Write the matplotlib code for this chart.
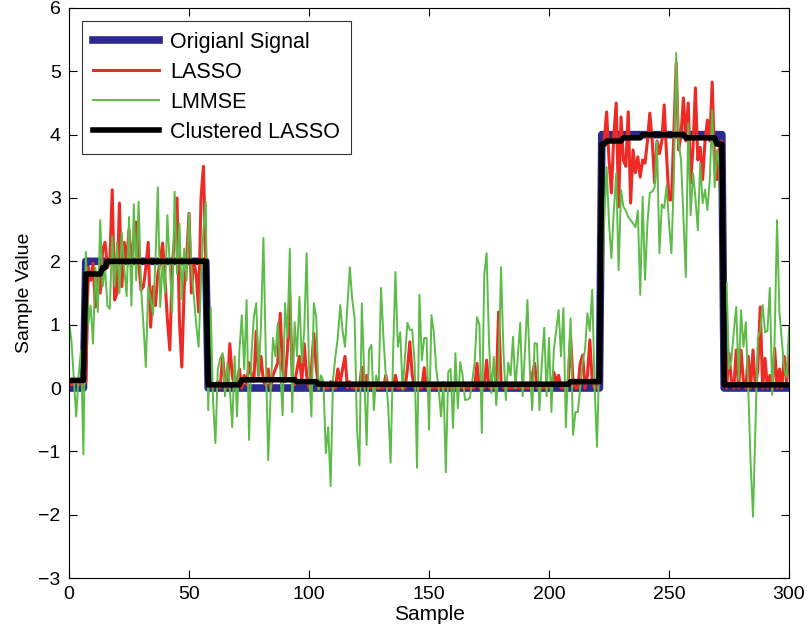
import matplotlib
matplotlib.use("Agg")
import matplotlib.pyplot as plt
import numpy as np

plt.rcParams['font.family'] = ['Liberation Sans', 'DejaVu Sans']

# sample index 0..300
samples = np.arange(301)

# original piecewise-constant signal: (level, number of samples)
orig_levels = [0, 2, 0, 4, 0]
orig_lengths = [7, 51, 164, 51, 28]

# clustered LASSO estimate: (level, number of samples)
clus_levels = [0.12, 1.8, 1.9, 2.0, 0.05, 0.13, 0.1, 0.06, 0.1, 3.85, 3.9, 3.95, 4.0, 3.95, 3.85, 0.05]
clus_lengths = [7, 7, 2, 42, 14, 23, 9, 105, 13, 2, 7, 8, 18, 13, 3, 28]

lasso = [
    0.1, 0.05, 0.08, 0.1, 0.05, 0.1, 0.05, 0.1, 1.9, 1.7,
    1.97, 1.28, 1.8, 1.5, 2.18, 2.3, 1.9, 2.0, 3.13, 1.39,
    1.5, 2.92, 1.6, 2.3, 2.0, 2.5, 1.9, 2.4, 2.62, 2.0,
    1.55, 1.6, 1.9, 2.3, 0.96, 1.6, 1.3, 1.8, 2.0, 2.29,
    1.7, 1.07, 0.6, 1.9, 2.4, 3.0, 1.07, 0.33, 1.6, 2.0,
    2.76, 1.5, 2.0, 1.8, 1.2, 3.0, 3.5, 2.0, 0.1, 0.05,
    0.0, 0.05, 0.1, 0.0, 0.5, 0.1, 0.0, 0.7, 0.2, 0.0,
    0.1, 0.3, 0.0, 0.2, 0.05, 0.4, 0.2, 0.1, 0.9, 0.2,
    0.5, 0.1, 0.05, 0.3, 0.0, 0.2, 0.3, 0.4, 1.18, 0.3,
    0.1, 0.6, 1.47, 0.2, 0.05, 0.3, 0.5, 0.1, 0.7, 0.2,
    0.0, 0.3, 0.86, 0.33, 0.0, 0.1, 0.05, 0.0, 0.0, 0.1,
    0.0, 0.0, 0.3, 0.1, 0.3, 0.5, 0.0, 0.1, 0.0, 0.0,
    0.0, 0.0, 0.33, 0.0, 0.2, 0.0, 0.0, 0.0, 0.0, 0.0,
    0.0, 0.0, 0.2, 0.0, 0.0, 0.0, 0.2, 0.0, 0.0, 0.0,
    0.0, 0.3, 0.73, 0.2, 0.0, 0.0, 0.0, 0.0, 0.32, 0.0,
    0.0, 0.0, 0.0, 0.0, 0.0, 0.0, 0.0, 0.0, 0.0, 0.0,
    0.0, 0.0, 0.0, 0.0, 0.0, 0.0, 0.0, 0.0, 0.0, 0.0,
    0.39, 0.0, 0.0, 0.0, 0.44, 0.0, 0.0, 0.0, 0.0, 1.2,
    0.1, 0.0, 0.0, 0.0, 0.0, 0.0, 0.0, 0.0, 0.0, 0.0,
    0.0, 0.0, 0.0, 0.2, 0.39, 0.0, 0.0, 0.0, 0.0, 0.0,
    0.0, 0.0, 0.25, 0.1, 0.2, 0.0, 0.0, 0.0, 0.1, 0.81,
    0.1, 0.0, 0.0, 0.39, 0.52, 0.0, 0.2, 0.76, 0.1, 0.0,
    0.0, 0.1, 3.7, 3.9, 4.36, 3.6, 3.08, 4.0, 4.5, 2.86,
    4.28, 3.6, 3.5, 4.36, 2.92, 3.76, 3.4, 3.65, 3.33, 3.6,
    3.55, 3.9, 4.34, 3.9, 3.24, 3.9, 3.7, 3.9, 4.47, 3.65,
    2.97, 2.97, 4.0, 5.13, 3.76, 4.0, 4.58, 3.9, 4.5, 3.24,
    3.8, 4.74, 3.6, 3.8, 3.29, 3.9, 4.23, 3.9, 4.83, 3.5,
    3.29, 3.8, 3.9, 0.3, 0.0, 0.55, 0.1, 0.0, 0.6, 0.0,
    0.6, 0.1, 0.0, 0.5, 0.0, 0.6, 0.0, 0.3, 1.28, 0.0,
    0.47, 0.0, 0.2, 0.0, 0.63, 0.0, 0.3, 0.0, 0.5, 0.1,
    0.5,
]

lmmse = [
    1.05, 0.75, 0.15, -0.45, 0.2, 0.6, -1.05, 2.15, 1.0, 1.3,
    0.7, 1.9, 1.2, 2.65, 1.6, 1.9, 1.3, 1.25, 2.4, 1.6,
    2.3, 1.5, 2.45, 1.9, 1.45, 2.7, 1.3, 2.9, 1.7, 2.94,
    1.6, 1.0, 0.33, 1.6, 1.4, 1.15, 2.0, 3.17, 1.28, 2.0,
    1.5, 2.73, 1.9, 1.2, 3.1, 1.8, 2.6, 1.4, 2.2, 1.7,
    2.76, 1.9, 1.44, 1.0, 0.65, 1.7, 2.5, 2.94, -0.35, 1.28,
    -0.2, -0.87, 0.3, 0.47, 0.55, -0.13, 0.4, 0.0, -0.62, 0.5,
    -0.45, 0.6, 1.15, 0.3, 1.39, -0.82, 0.5, 1.12, 1.34, 0.2,
    1.0, 2.37, 0.5, -1.14, -0.08, 0.79, 0.5, 1.03, 0.3, -0.43,
    1.34, 0.8, 2.2, -0.38, 1.04, 0.5, 1.44, 0.4, 0.9, 2.13,
    0.3, -0.45, 1.34, 1.12, -0.03, 0.2, 0.1, -1.03, -0.62, -1.55,
    0.13, 0.5, 0.8, 1.31, 0.9, 0.65, 1.3, 1.91, 1.4, 1.1,
    -0.66, -1.22, 1.34, 0.2, -0.9, 0.6, 0.68, -0.35, 0.2, 0.0,
    1.58, 0.8, 0.2, -0.3, -1.18, 0.5, 1.83, 0.65, 0.88, -0.03,
    0.5, 1.03, 0.92, 0.92, 0.4, -1.26, 1.47, 0.44, 0.79, 0.79,
    -0.66, 1.15, 0.88, 0.3, 0.0, -0.45, 0.1, -1.33, 0.25, 0.3,
    -0.63, 0.55, -0.32, 0.41, 0.2, -0.19, -0.18, -0.16, 0.1, 0.4,
    1.12, 1.0, -0.71, 1.78, 2.13, 0.71, -0.08, 0.49, -0.27, 0.3,
    1.91, 0.6, -0.19, 0.4, 0.2, 0.81, 0.0, 0.5, 1.03, -0.13,
    0.6, 1.39, 0.3, -0.35, 0.71, 0.7, -0.35, 0.4, 0.95, -0.13,
    0.79, -0.38, 0.6, 0.92, 1.23, 0.5, 1.26, -0.62, 0.3, 1.1,
    -0.74, -0.38, -0.38, 0.0, 0.41, 0.6, 1.18, 0.9, 1.55, 0.0,
    -0.93, 0.55, 1.5, 2.62, 3.49, 2.6, 2.05, 2.8, 3.39, 1.86,
    3.13, 2.86, 2.8, 2.7, 2.65, 2.6, 2.54, 2.8, 1.47, 3.02,
    1.71, 2.6, 3.08, 3.1, 3.17, 3.89, 2.13, 2.9, 2.84, 3.2,
    2.6, 2.13, 3.3, 5.29, 3.87, 3.6, 2.7, 1.75, 4.18, 2.73,
    3.39, 3.0, 2.49, 3.55, 2.92, 3.13, 2.81, 3.3, 4.39, 3.17,
    3.76, 3.5, 2.2, 0.9, 1.67, 0.3, 0.44, 0.9, 1.28, 0.13,
    1.23, 0.65, 1.04, 0.0, -1.18, -2.03, -0.62, 0.79, 0.9, 1.31,
    0.88, 0.9, 1.58, -0.11, 0.76, 2.65, 1.2, 0.76, 0.3, 0.17,
    0.96,
]

original = np.repeat(orig_levels, orig_lengths)
clustered = np.repeat(clus_levels, clus_lengths)

fig = plt.figure(figsize=(8.11, 6.38), dpi=100)
ax = fig.add_axes([0.0851, 0.094, 0.8878, 0.8935])

ax.plot(samples, original, color='#2b2b8f', linewidth=5.5, label='Origianl Signal')
ax.plot(samples, lasso, color='#ee2a24', linewidth=2.2, label='LASSO')
ax.plot(samples, lmmse, color='#5dbb47', linewidth=1.4, label='LMMSE')
ax.plot(samples, clustered, color='black', linewidth=4, label='Clustered LASSO')

ax.set_xlim(0, 300)
ax.set_ylim(-3, 6)
ax.set_xticks(np.arange(0, 301, 50))
ax.set_yticks(np.arange(-3, 7, 1))
ax.tick_params(direction='in', top=True, right=True, labelsize=14, length=6, pad=6)
for s in ax.spines.values():
    s.set_linewidth(0.8)

ax.set_xlabel('Sample', fontsize=15, labelpad=1)
ax.set_ylabel('Sample Value', fontsize=14, labelpad=4)

leg = ax.legend(loc='upper left', fontsize=15.5, handlelength=3.1, frameon=True,
                fancybox=False, edgecolor='black', borderaxespad=0.6,
                labelspacing=0.42, borderpad=0.5, handletextpad=0.5)
leg.get_frame().set_linewidth(0.8)

fig.savefig('out.png', dpi=100)
